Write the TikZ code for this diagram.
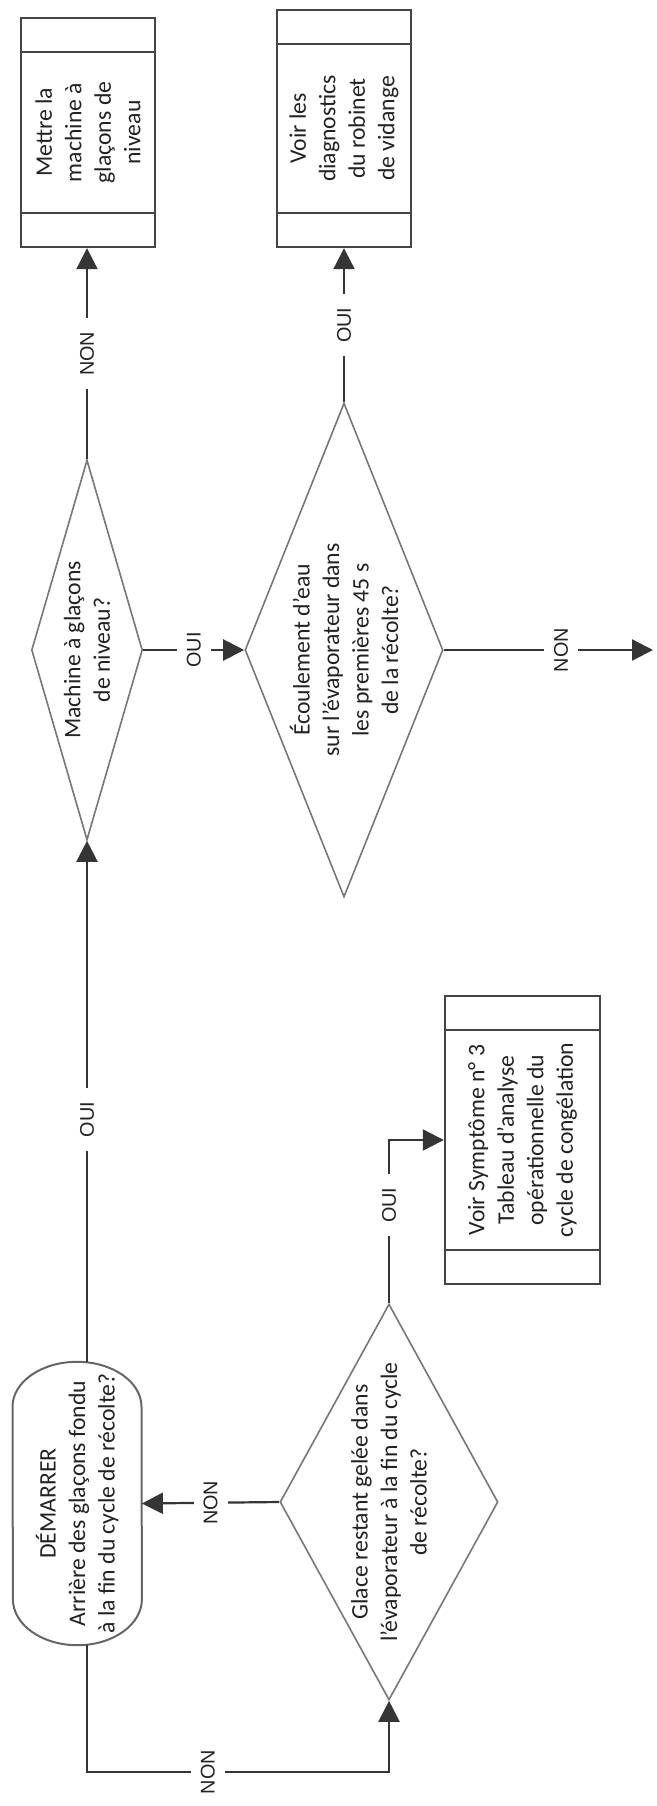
\documentclass[tikz,border=0pt]{standalone}
\usepackage{fontspec}
\setmainfont{Carlito}
\newfontfamily\lblfont{Liberation Sans}
\usetikzlibrary{shapes.geometric,arrows.meta,calc}
\definecolor{conncol}{HTML}{353535}
\definecolor{boxcol}{HTML}{444444}
\definecolor{diacol}{HTML}{777777}
\definecolor{termcol}{HTML}{666666}
\definecolor{txtcol}{HTML}{222222}
\begin{document}
\begin{tikzpicture}[x=1pt,y=-1pt,
  txt/.style={font=\fontsize{23.7}{29.5}\selectfont,text=txtcol,align=center,rotate=90,inner sep=0pt},
  procbox/.style={rectangle,draw=boxcol,line width=2.4pt,inner sep=0pt},
  dia/.style={diamond,draw=diacol,line width=1.6pt,inner sep=0pt},
  conn/.style={draw=conncol,line width=2.2pt,-{Triangle[width=21pt,length=21pt]}},
  lbl/.style={font=\lblfont\fontsize{19.8}{22}\selectfont,text=txtcol,fill=white,rotate=90,inner xsep=13.5pt,inner ysep=10pt},
  sepline/.style={draw=boxcol,line width=2.4pt},
  termline/.style={draw=termcol,line width=2pt}
]
\useasboundingbox (0,0) rectangle (656,1806);
\fill[white] (0,0) rectangle (656,1806);

% process boxes
\node[procbox,minimum width=134pt,minimum height=229pt,
  label={[txt]center:{Mettre la\\machine à\\glaçons de\\niveau}}] (b1) at (88,132.5) {};
\node[procbox,minimum width=134pt,minimum height=237pt,
  label={[txt]center:{Voir les\\diagnostics\\du robinet\\de vidange}}] (b2) at (344,128.5) {};
\node[procbox,minimum width=155pt,minimum height=288pt,
  label={[txt]center:{Voir Symptôme n° 3\\Tableau d’analyse\\opérationnelle du\\cycle de congélation}}] (b3) at (522.5,1140) {};
\foreach \b in {b1,b2,b3}{
  \draw[sepline] ([yshift=-35pt]\b.north west) -- ([yshift=-35pt]\b.north east);
  \draw[sepline] ([yshift=35pt]\b.south west) -- ([yshift=35pt]\b.south east);
}

% decisions
\node[dia,minimum width=111pt,minimum height=380pt,
  label={[txt]center:{Machine à glaçons\\de niveau?}}] (d1) at (87,650) {};
\node[dia,minimum width=198pt,minimum height=494pt,
  label={[txt]center:{Écoulement d’eau\\sur l’évaporateur dans\\les premières 45 s\\de la récolte?}}] (d2) at (344,650) {};
\node[dia,minimum width=218pt,minimum height=396pt,
  label={[txt]center:{Glace restant gelée dans\\l’évaporateur à la fin du cycle\\de récolte?}}] (d3) at (389,1502) {};

% terminal
\node[draw=none,minimum width=129pt,minimum height=283pt,inner sep=0pt,
  label={[txt]center:{DÉMARRER\\Arrière des glaçons fondu\\à la fin du cycle de récolte?}}] (t) at (77.2,1503.5) {};
\draw[termline] ([yshift=-45pt]t.north west)
  arc[start angle=180,end angle=0,x radius=64.5pt,y radius=45pt]
  -- ([yshift=46pt]t.south east)
  arc[start angle=0,end angle=-180,x radius=64.5pt,y radius=46pt] -- cycle;

\coordinate (out) at (653,650);

% connectors
\draw[conn] (d1.north) -- node[lbl]{NON} (d1.north |- b1.south);
\draw[conn] (d2.north) -- node[lbl]{OUI} (b2.south);
\draw[conn] (d1.east) -- node[lbl]{OUI} (d2.west);
\draw[conn] (d2.east) -- node[lbl,pos=0.56]{NON} (out);
\draw[conn] (d1.south |- t.north) -- node[lbl,pos=0.465]{OUI} (d1.south);
\draw[conn] (d3.west) -- node[lbl]{NON} (t.east);
\draw[conn] (d1.south |- t.south) -- ++(0,127) -| node[lbl,pos=0.2]{NON} (d3.south);
\draw[conn] (d3.north) |- node[lbl,pos=0.3]{OUI} (b3.west);
\end{tikzpicture}
\end{document}
